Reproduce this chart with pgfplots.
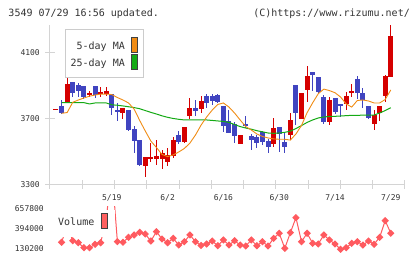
\documentclass[border=0pt]{standalone}
\usepackage{pgfplots}
\pgfplotsset{compat=1.18}
\usepackage{pgfplotstable}
\usepackage{fontspec}
\setmainfont{DejaVu Sans Mono}

\definecolor{upred}{RGB}{213,0,0}
\definecolor{downblue}{RGB}{64,68,192}
\definecolor{maorange}{RGB}{240,140,20}
\definecolor{magreen}{RGB}{20,170,20}
\definecolor{volred}{RGB}{255,90,95}
\definecolor{swatchred}{RGB}{255,96,96}
\definecolor{axisgray}{RGB}{212,212,212}
\definecolor{txtgray}{RGB}{51,51,51}
\definecolor{boxgray}{RGB}{204,204,204}
\definecolor{swatchedge}{RGB}{64,64,64}

\newcommand\hdrsize{\fontsize{10bp}{12bp}\selectfont}
\newcommand\ticksize{\fontsize{8bp}{9bp}\selectfont}

% daily candles: index, open, high, low, close
\pgfplotstableread{
i o h l c
1 3752 3758 3752 3758
3 3795 3956 3795 3908
7 3841 3867 3831 3855
9 3845 3887 3829 3858
10 3849 3890 3838 3865
13 3734 3764 3696 3762
17 3413 3465 3347 3465
18 3453 3550 3435 3468
19 3456 3568 3417 3473
20 3453 3508 3391 3488
21 3437 3518 3411 3478
22 3473 3585 3459 3568
24 3555 3649 3552 3647
25 3714 3825 3698 3761
27 3755 3835 3734 3805
34 3546 3599 3546 3599
40 3544 3702 3526 3639
43 3599 3730 3568 3690
45 3696 3853 3696 3853
46 3872 4015 3799 3956
50 3679 3830 3659 3811
53 3787 3860 3750 3835
54 3855 3907 3830 3865
58 3665 3750 3629 3720
59 3730 3775 3685 3775
60 3837 3962 3799 3956
61 3952 4290 3952 4199
}\upcandles

\pgfplotstableread{
i o h l c
2 3775 3811 3726 3730
4 3920 3920 3831 3852
5 3902 3916 3831 3867
6 3896 3896 3817 3827
8 3896 3896 3823 3839
11 3848 3850 3718 3765
12 3752 3793 3685 3742
14 3752 3752 3623 3629
15 3635 3655 3492 3564
16 3568 3568 3411 3417
23 3599 3623 3544 3558
26 3762 3811 3714 3744
28 3837 3847 3765 3795
29 3835 3850 3781 3805
30 3841 3847 3790 3801
31 3775 3775 3619 3655
32 3684 3750 3609 3609
33 3664 3679 3552 3595
35 3665 3714 3640 3655
36 3593 3605 3508 3568
37 3585 3597 3520 3552
38 3615 3623 3540 3558
39 3564 3577 3490 3528
41 3649 3649 3498 3605
42 3558 3613 3490 3528
44 3902 3902 3662 3732
47 3981 3981 3866 3962
48 3950 3950 3850 3861
49 3831 3840 3665 3679
51 3821 3821 3729 3740
52 3787 3787 3708 3775
55 3938 3956 3815 3855
56 3851 3886 3765 3811
57 3775 3775 3694 3704
}\downcandles

% moving averages: index, 5-day, 25-day
\pgfplotstableread{
i ma5 ma25
2 3730 3795
3 3735 3795
4 3797 3795
5 3811 3795
6 3823 3795
7 3834 3787
8 3841 3793
9 3847 3794
10 3847 3793
11 3844 3782
12 3826 3779
13 3811 3775
14 3793 3770
15 3756 3765
16 3687 3758
17 3623 3747
18 3562 3736
19 3523 3726
20 3481 3715
21 3468 3706
22 3478 3699
23 3496 3694
24 3517 3690
25 3550 3690
26 3599 3690
27 3659 3690
28 3708 3690
29 3750 3687
30 3784 3684
31 3793 3681
32 3768 3675
33 3732 3662
34 3690 3650
35 3650 3641
36 3629 3634
37 3605 3625
38 3590 3618
39 3581 3611
40 3575 3609
41 3573 3611
42 3573 3615
43 3568 3622
44 3605 3638
45 3657 3656
46 3734 3675
47 3794 3690
48 3849 3702
49 3877 3708
50 3868 3711
51 3855 3712
52 3829 3714
53 3787 3716
54 3768 3718
55 3808 3718
56 3811 3719
57 3805 3720
58 3793 3720
59 3793 3732
60 3814 3747
61 3872 3764
}\movingavg

% daily volume
\pgfplotstableread{
i v
2 211000
3 432000
4 232000
5 205000
6 138000
7 138000
8 184000
9 205000
10 520000
11 1200000
12 219000
13 211000
14 278000
15 309000
16 345000
17 322000
18 228000
19 353000
20 255000
21 205000
22 264000
23 174000
24 219000
25 309000
26 219000
27 168000
28 188000
29 228000
30 165000
31 242000
32 174000
33 232000
34 174000
35 161000
36 242000
37 165000
38 219000
39 161000
40 264000
41 332000
42 130000
43 340000
44 541000
45 219000
46 332000
47 197000
48 188000
49 309000
50 242000
51 188000
52 117000
53 138000
54 197000
55 219000
56 174000
57 228000
58 184000
59 278000
60 501000
61 332000
}\volumes

\pgfplotsset{
  candlewick/.style={draw=none, mark=none, forget plot,
    error bars/.cd, y dir=both, y explicit, error mark=none,
    error bar style={draw=#1, line width=1bp}},
  candlebody/.style={draw=none, mark=none, forget plot,
    error bars/.cd, y dir=both, y explicit, error mark=none,
    error bar style={draw=#1, line width=5bp, line cap=butt}},
}

\begin{document}
\begin{tikzpicture}
\path[use as bounding box] (0,0) rectangle (420bp,259bp);

\node[anchor=base west, inner sep=0pt, text=txtgray, font=\hdrsize] at (8.3bp,242.6bp) {3549 07/29 16:56 updated.};
\node[anchor=base east, inner sep=0pt, text=txtgray, font=\hdrsize] at (410bp,242.6bp) {(C)https://www.rizumu.net/};

% price panel
\begin{axis}[
  at={(50bp,74.7bp)}, anchor=south west,
  scale only axis, width=355bp, height=159.3bp,
  xmin=-0.075, xmax=63.545, ymin=3300, ymax=4265.5,
  axis x line*=bottom, axis y line*=left,
  axis line style={axisgray, line width=1bp, -},
  every tick/.style={axisgray, line width=1bp},
  tick align=center, major tick length=9bp,
  xtick={-0.075,5.708,11.492,17.275,23.059,28.843,34.626,40.41,46.193,51.977,57.76,63.544},
  xticklabels={},
  extra x ticks={11,21,31,41,51,61},
  extra x tick labels={5/19,6/2,6/16,6/30,7/14,7/29},
  extra x tick style={major tick length=0pt},
  xticklabel style={font=\ticksize, text=txtgray, anchor=north, inner sep=0pt, yshift=-10bp},
  ytick={3300,3700,4100},
  yticklabel style={font=\ticksize, text=txtgray, anchor=east, inner sep=0pt, xshift=-5.5bp},
  /pgf/number format/assume math mode=true,
  /pgf/number format/1000 sep={},
]
\addplot[candlewick=upred] table[x=i, y expr={(\thisrow{h}+\thisrow{l})/2}, y error expr={(\thisrow{h}-\thisrow{l})/2}] {\upcandles};
\addplot[candlebody=upred] table[x=i, y expr={(\thisrow{o}+\thisrow{c})/2}, y error expr={abs(\thisrow{c}-\thisrow{o})/2}] {\upcandles};
\addplot[candlewick=downblue] table[x=i, y expr={(\thisrow{h}+\thisrow{l})/2}, y error expr={(\thisrow{h}-\thisrow{l})/2}] {\downcandles};
\addplot[candlebody=downblue] table[x=i, y expr={(\thisrow{o}+\thisrow{c})/2}, y error expr={abs(\thisrow{c}-\thisrow{o})/2}] {\downcandles};
\addplot[magreen, line width=1bp, mark=none] table[x=i, y=ma25] {\movingavg};
\addplot[maorange, line width=0.9bp, mark=none] table[x=i, y=ma5] {\movingavg};
\end{axis}

% moving average legend
\draw[boxgray, fill=white, line width=1bp] (65bp,181.7bp) rectangle (143.3bp,229bp);
\node[anchor=base east, inner sep=0pt, text=txtgray, font=\hdrsize] at (125bp,209.4bp) {5-day MA};
\node[anchor=base east, inner sep=0pt, text=txtgray, font=\hdrsize] at (125bp,192.1bp) {25-day MA};
\draw[swatchedge, fill=maorange, line width=0.8bp] (131bp,206.7bp) rectangle (137.7bp,221.7bp);
\draw[swatchedge, fill=magreen, line width=0.8bp] (131bp,189.7bp) rectangle (137.7bp,204.7bp);

% volume panel
\begin{axis}[
  at={(50bp,3bp)}, anchor=south west,
  scale only axis, width=355bp, height=49bp,
  xmin=-0.075, xmax=63.545, ymin=26825, ymax=684650,
  axis line style={draw=none},
  xtick=\empty, ytick={130200,394000,657800},
  major tick length=0pt, tick style={draw=none},
  yticklabel style={font=\ticksize, text=txtgray, anchor=east, inner sep=0pt, xshift=-6bp},
  scaled y ticks=false,
  /pgf/number format/fixed,
  /pgf/number format/assume math mode=true,
  /pgf/number format/1000 sep={},
]
\addplot[volred, line width=1bp, mark=square*, mark size=2.1bp,
  mark options={rotate=45, fill=volred, draw=none}] table[x=i, y=v] {\volumes};
\end{axis}

% volume legend
\fill[white] (56bp,22bp) rectangle (115bp,49bp);
\node[anchor=base west, inner sep=0pt, text=txtgray, font=\hdrsize] at (58bp,33.7bp) {Volume};
\draw[swatchedge, fill=swatchred, line width=0.8bp] (101bp,30.7bp) rectangle (107.3bp,45.7bp);
\end{tikzpicture}
\end{document}
